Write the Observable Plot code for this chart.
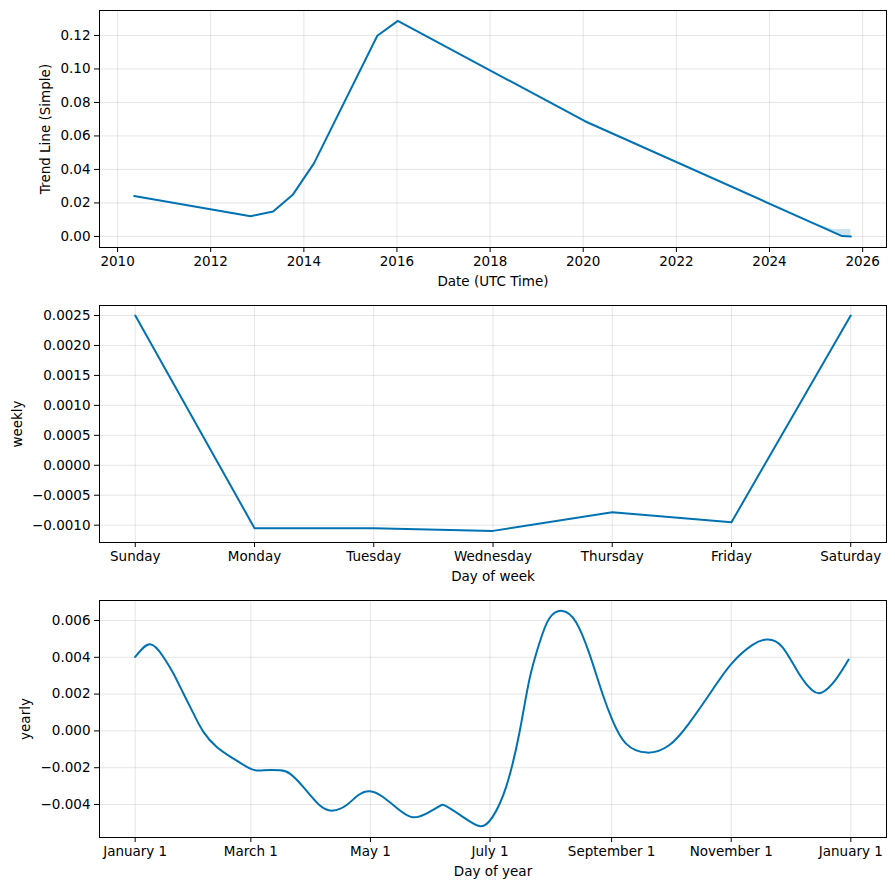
<!DOCTYPE html>
<html>
<head>
<meta charset="utf-8">
<script src="https://cdn.jsdelivr.net/npm/d3@7"></script>
<script src="https://cdn.jsdelivr.net/npm/@observablehq/plot@0.6"></script>
<style>
  html, body { margin: 0; padding: 0; background: #fff; }
  #chart { width: 895px; font-family: "DejaVu Sans", sans-serif; color: #000; }
  #chart svg { display: block; }
</style>
</head>
<body>
<div id="chart"></div>
<script>
// ---- Trend panel data ----
const trendDates = ["2010-05-11","2012-11-10","2013-05-05","2013-10-08","2014-03-21","2015-07-31","2016-01-08","2020-01-15","2025-07-24","2025-10-01"];
const trendValues = [0.0242, 0.0121, 0.0149, 0.0251, 0.0436, 0.1198, 0.1287, 0.0688, 0.0002, 0.0];
const bandDates = ["2025-01-10","2025-05-15","2025-07-24","2025-10-01"];
const bandLower = [0.0075, 0.0020, -0.0004, -0.0004];
const bandUpper = [0.0075, 0.0042, 0.0042, 0.0042];
const trendTickYears = [2010, 2012, 2014, 2016, 2018, 2020, 2022, 2024, 2026];
const trendYTicks = [0.00, 0.02, 0.04, 0.06, 0.08, 0.10, 0.12];

// ---- Weekly panel data ----
const weekDays = ["Sunday","Monday","Tuesday","Wednesday","Thursday","Friday","Saturday"];
const weeklyValues = [0.0025, -0.00105, -0.00105, -0.001095, -0.000783, -0.00095, 0.0025];
const weeklyYTicks = [-0.0010, -0.0005, 0.0000, 0.0005, 0.0010, 0.0015, 0.0020, 0.0025];

// ---- Yearly panel data ----
const yearlyDays = [0, 7.6, 14.4, 19.5, 24.6, 29.7, 34.8, 41.6, 50, 59.3, 65.4, 73.8, 78.9, 85.7, 94.1, 100.9, 107.7, 113.7, 119.6, 126.4, 134.9, 141.6, 148.5, 155.2, 158.6, 167.1, 175.9, 182.3, 189.2, 195.9, 201, 206.1, 211.2, 218, 224.8, 231.6, 238.3, 243.4, 250.2, 261.2, 272.3, 282.4, 294.3, 304.2, 314.7, 322.4, 330, 338.5, 345.3, 350.4, 357.1, 363.9];
const yearlyValues = [0.00402, 0.00471, 0.00402, 0.00312, 0.00203, 0.00095, -0.00005, -0.00087, -0.0015, -0.00208, -0.00214, -0.00214, -0.00232, -0.00304, -0.00404, -0.00433, -0.00404, -0.0035, -0.00328, -0.00359, -0.00431, -0.00469, -0.00449, -0.00409, -0.00409, -0.00467, -0.00518, -0.00467, -0.00304, -0.00014, 0.00276, 0.00475, 0.00611, 0.00652, 0.00592, 0.00421, 0.00203, 0.00058, -0.00068, -0.00118, -0.00078, 0.0004, 0.00221, 0.00366, 0.00466, 0.00497, 0.00457, 0.00312, 0.00221, 0.00209, 0.00276, 0.00388];
const yearTickDays = [0, 59, 120, 181, 243, 304, 365];
const yearTickLabels = ["January 1","March 1","May 1","July 1","September 1","November 1","January 1"];
const yearlyYTicks = [-0.004, -0.002, 0.000, 0.002, 0.004, 0.006];

const BLUE = "#0072B2";
const FONT = 13.5;
const common = {
  width: 895,
  marginLeft: 99, marginRight: 9, marginTop: 10,
  style: { fontFamily: "DejaVu Sans, sans-serif", fontSize: FONT + "px", color: "#000", background: "#fff", overflow: "visible" }
};
const gridStyle = { stroke: "gray", strokeOpacity: 0.2, strokeWidth: 1 };

function labels(xlab, ylab, ydx) {
  return [
    Plot.text([xlab], { frameAnchor: "bottom", dy: 34.5, lineAnchor: "middle", fontSize: FONT, fill: "#000", text: d => d }),
    Plot.text([ylab], { frameAnchor: "left", dx: ydx, rotate: -90, lineAnchor: "middle", textAnchor: "middle", fontSize: FONT, fill: "#000", text: d => d })
  ];
}

const parse = d3.utcParse("%Y-%m-%d");
const trendData = trendDates.map((d, i) => ({ date: parse(d), value: trendValues[i] }));
const bandData = bandDates.map((d, i) => ({ date: parse(d), lo: bandLower[i], hi: bandUpper[i] }));
const trendTicks = trendTickYears.map(y => new Date(Date.UTC(y, 0, 1)));

const p1 = Plot.plot({
  ...common,
  height: 295, marginBottom: 48,
  x: { type: "utc", domain: [new Date(Date.UTC(2009, 7, 12)), new Date(Date.UTC(2026, 6, 7))] },
  y: { domain: [-0.0066, 0.1349] },
  marks: [
    Plot.gridX(trendTicks, gridStyle),
    Plot.gridY(trendYTicks, gridStyle),
    Plot.areaY(bandData, { x: "date", y1: "lo", y2: "hi", fill: BLUE, fillOpacity: 0.2 }),
    Plot.line(trendData, { x: "date", y: "value", stroke: BLUE, strokeWidth: 2 }),
    Plot.frame({ stroke: "#000", strokeWidth: 1 }),
    Plot.axisX(trendTicks, { tickSize: 5, tickPadding: 4, tickFormat: d3.utcFormat("%Y"), label: null, fontSize: FONT }),
    Plot.axisY(trendYTicks, { tickSize: 5, tickPadding: 4, tickFormat: d3.format(".2f"), label: null, fontSize: FONT }),
    ...labels("Date (UTC Time)", "Trend Line (Simple)", -54)
  ]
});

const weeklyData = weekDays.map((d, i) => ({ i, value: weeklyValues[i] }));
const weekIdx = weekDays.map((d, i) => i);
const p2 = Plot.plot({
  ...common,
  height: 295, marginBottom: 48,
  x: { domain: [-0.3, 6.3] },
  y: { domain: [-0.001289, 0.002667] },
  marks: [
    Plot.gridX(weekIdx, gridStyle),
    Plot.gridY(weeklyYTicks, gridStyle),
    Plot.line(weeklyData, { x: "i", y: "value", stroke: BLUE, strokeWidth: 2 }),
    Plot.frame({ stroke: "#000", strokeWidth: 1 }),
    Plot.axisX(weekIdx, { tickSize: 5, tickPadding: 4, tickFormat: i => weekDays[i], label: null, fontSize: FONT }),
    Plot.axisY(weeklyYTicks, { tickSize: 5, tickPadding: 4, tickFormat: d3.format(".4f"), label: null, fontSize: FONT }),
    ...labels("Day of week", "weekly", -82)
  ]
});

const yearlyData = yearlyDays.map((d, i) => ({ day: d, value: yearlyValues[i] }));
const p3 = Plot.plot({
  ...common,
  height: 300, marginBottom: 53,
  x: { domain: [-18.2, 383.2] },
  y: { domain: [-0.005793, 0.007087] },
  marks: [
    Plot.gridX(yearTickDays, gridStyle),
    Plot.gridY(yearlyYTicks, gridStyle),
    Plot.line(yearlyData, { x: "day", y: "value", stroke: BLUE, strokeWidth: 2, curve: "natural" }),
    Plot.frame({ stroke: "#000", strokeWidth: 1 }),
    Plot.axisX(yearTickDays, { tickSize: 5, tickPadding: 4, tickFormat: (d, i) => yearTickLabels[i], label: null, fontSize: FONT }),
    Plot.axisY(yearlyYTicks, { tickSize: 5, tickPadding: 4, tickFormat: d3.format(".3f"), label: null, fontSize: FONT }),
    ...labels("Day of year", "yearly", -74)
  ]
});

const el = document.getElementById("chart");
el.append(p1, p2, p3);
</script>
</body>
</html>
